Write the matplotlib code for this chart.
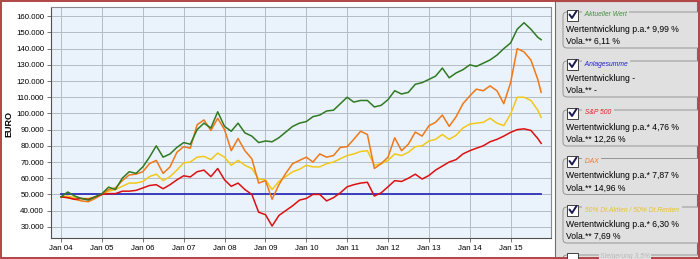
import matplotlib
matplotlib.use("Agg")
import matplotlib.pyplot as plt
import matplotlib.dates as mdates
from matplotlib.patches import Rectangle, FancyBboxPatch
from matplotlib.ticker import FuncFormatter
import numpy as np
import pandas as pd

plt.rcParams['font.family'] = ['Liberation Sans', 'DejaVu Sans']

# every second month from Jan 2004, last point Oct 2015
dates = list(pd.date_range('2004-01-01', '2015-09-01', freq='2MS')) + [pd.Timestamp('2015-10-01')]

# values in thousand EUR
aktueller_wert = [48.5, 51.5, 49, 47.5, 46.5, 48.5,
                  50.5, 54.5, 53, 60, 64, 63,
                  67, 73, 80, 73, 75, 79,
                  82, 81, 90, 94, 91, 101,
                  92, 89, 94, 88, 86, 82,
                  83, 82.5, 85, 88.5, 92, 94,
                  95, 98, 99, 101.5, 102, 106,
                  110, 107, 108, 108, 104, 105,
                  108.5, 114, 112, 113, 118, 119,
                  121, 123, 128, 122, 125, 127,
                  130, 129, 131, 133, 136, 140,
                  143.5, 152, 156, 152, 147, 145.5]
dax = [48.5, 48, 47, 46, 45.5, 47.5,
       50, 53, 54, 58.5, 62, 62.5,
       64, 69, 71, 63, 67, 76,
       79.5, 78.5, 93, 96, 89.5, 97,
       90, 77, 84.5, 77, 72, 57,
       58.5, 47, 56, 63, 69, 71,
       73, 70, 75, 73, 74, 79,
       79.5, 84, 89, 87, 66, 69,
       73, 85, 77, 81, 88.5, 86,
       92.4, 94.5, 99, 92, 98, 106,
       110.8, 115, 114, 117, 114, 106,
       119, 140, 138, 133, 121, 113]
mix_50_50 = [48.5, 49, 48, 47.5, 47.5, 48.5,
             50, 52, 53, 55, 57, 57,
             58, 61, 62.5, 58.5, 61, 65,
             69.5, 70, 73, 73.5, 71.5, 75.5,
             73, 68, 71, 68, 66, 59.5,
             59, 53, 58, 61, 64, 65.5,
             68, 67, 67, 69, 70, 72,
             74, 75, 76.5, 77, 68, 69,
             71, 75, 74, 76, 79.5, 80,
             83, 84, 87, 84, 86.5, 91,
             93.4, 94, 94.5, 97, 94, 92.5,
             99.6, 110, 110, 108, 102, 97.5]
sp500 = [48.5, 48, 47, 47.5, 47, 48.5,
         50, 50.5, 50.5, 52, 52, 52.5,
         54, 55.5, 56, 53.5, 56, 59,
         61.5, 60.8, 64, 65, 61, 66,
         59, 55, 57, 53, 50, 39,
         37.5, 30.5, 37, 40, 43, 46.5,
         47.5, 50, 50, 46, 48, 51,
         54.7, 56, 57, 57.5, 49, 51,
         54.7, 58.5, 58, 60, 62.5, 59.5,
         61.7, 65, 67.5, 70, 71.5, 75,
         77, 78.5, 80, 82.5, 84, 86,
         88.3, 90, 90.5, 89.5, 84.5, 81.5]
anlagesumme = 50000

legend_titles = ['Aktueller Wert', 'Anlagesumme', 'S&P 500', 'DAX',
                 '50% Dt.Aktien / 50% Dt.Renten']
legend_colors = ['#3f8f3a', '#2020c8', '#e02020', '#e87a2a', '#e8c030']
legend_line1 = ['Wertentwicklung p.a.* 9,99 %', 'Wertentwicklung -',
                'Wertentwicklung p.a.* 4,76 %', 'Wertentwicklung p.a.* 7,87 %',
                'Wertentwicklung p.a.* 6,30 %']
legend_line2 = ['Vola.** 6,11 %', 'Vola.** -', 'Vola.** 12,26 %',
                'Vola.** 14,96 %', 'Vola.** 7,69 %']

fig = plt.figure(figsize=(7, 2.59), dpi=100)
fig.patch.set_facecolor('white')

ax = fig.add_axes([51/700, 21/259, 500/700, 231/259])
ax.set_facecolor('#eaf3fc')

ax.plot(dates, [anlagesumme] * len(dates), color='#3030b8', lw=1.3, zorder=3)
ax.plot(dates, np.array(mix_50_50) * 1000, color='#f2c81a', lw=1.1, zorder=4)
ax.plot(dates, np.array(dax) * 1000, color='#f07818', lw=1.1, zorder=5)
ax.plot(dates, np.array(sp500) * 1000, color='#dc1010', lw=1.1, zorder=6)
ax.plot(dates, np.array(aktueller_wert) * 1000, color='#2f7a22', lw=1.1, zorder=7)

ax.set_xlim(pd.Timestamp('2003-10-03'), pd.Timestamp('2015-12-28'))
ax.set_ylim(23100, 165700)
ax.set_yticks(range(30000, 160001, 10000))
ax.yaxis.set_major_formatter(FuncFormatter(lambda v, p: f'{int(v):,}'.replace(',', '.')))
ax.xaxis.set_major_locator(mdates.YearLocator())
ax.xaxis.set_major_formatter(mdates.DateFormatter('Jan %y'))
ax.tick_params(labelsize=5.7, length=3, width=0.6, color='#606060', pad=2)
ax.grid(True, color='#b4bcc6', lw=0.7)
ax.set_axisbelow(True)
for s in ax.spines.values():
    s.set_color('#8a8a8a')
    s.set_linewidth(0.8)
ax.spines['left'].set_color('#505050')
ax.spines['bottom'].set_color('#505050')
fig.text(9/700, 1 - 124/259, 'EURO', rotation=90, fontsize=6.5, fontweight='bold',
         ha='center', va='center')

# legend panel on the right, drawn in pixel coordinates
pan = fig.add_axes([0, 0, 1, 1])
pan.set_xlim(0, 700)
pan.set_ylim(259, 0)
pan.axis('off')
panel_bg = '#e0e0e0'
pan.add_patch(Rectangle((555, 1), 142, 257, facecolor=panel_bg, edgecolor='#707070', lw=0.8))

title_y = [15, 64, 113, 161.5, 210]
for i, t in enumerate(title_y):
    pan.add_patch(FancyBboxPatch((563, t - 3), 150, 36,
                                 boxstyle='round,pad=0,rounding_size=4',
                                 facecolor=panel_bg, edgecolor='#959595', lw=0.7))
    pan.add_patch(Rectangle((567, t - 5.5), 11, 11, facecolor='white',
                            edgecolor='#404040', lw=0.7, zorder=5))
    pan.plot([569.5, 572, 576.5], [t - 0.5, t + 3, t - 4], color='#1a1a50',
             lw=1.4, solid_capstyle='round', zorder=6)
    pan.text(583, t, ' ' + legend_titles[i] + ' ', fontsize=4.9, style='italic',
             color=legend_colors[i], va='center', ha='left',
             bbox=dict(facecolor=panel_bg, edgecolor='none', pad=0.5), zorder=4)
    pan.text(566, t + 14.5, legend_line1[i], fontsize=6.2, va='center', ha='left')
    pan.text(566, t + 26.5, legend_line2[i], fontsize=6.2, va='center', ha='left')

# partly hidden sixth entry
pan.add_patch(FancyBboxPatch((563, 255), 150, 36, boxstyle='round,pad=0,rounding_size=4',
                             facecolor=panel_bg, edgecolor='#959595', lw=0.7))
pan.add_patch(Rectangle((567, 252.5), 11, 11, facecolor='white', edgecolor='#404040',
                        lw=0.7, zorder=5))
pan.text(600, 257, 'Steigerung 3,5%', fontsize=4.9, style='italic', color='#b8b8b8',
         va='center', ha='left', bbox=dict(facecolor=panel_bg, edgecolor='none', pad=0.5),
         zorder=4)

# outer frame of the screenshot
pan.add_patch(Rectangle((0.7, 0.7), 698.6, 257.6, facecolor='none', edgecolor='#b04545', lw=1.4))

fig.savefig('out.png', dpi=100)
